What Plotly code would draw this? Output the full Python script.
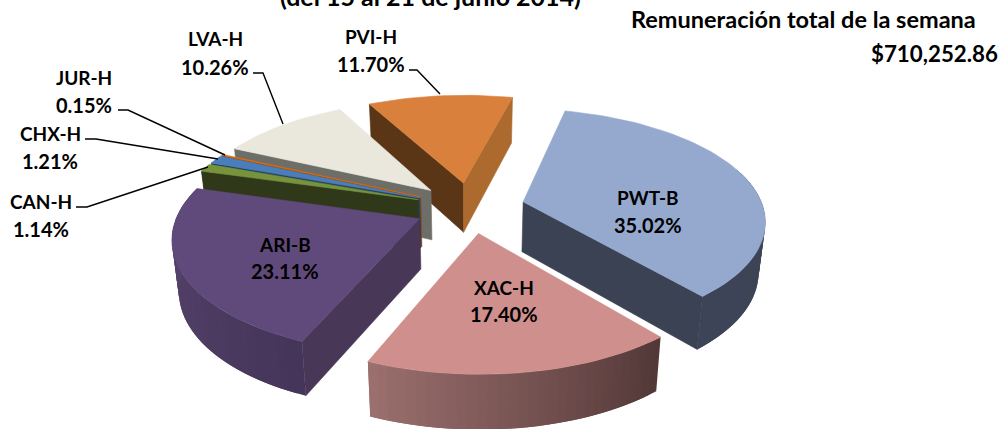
import math
import plotly.graph_objects as go

# Data, clockwise from the first slice
CATEGORIES = ["PWT-B", "XAC-H", "ARI-B", "CAN-H", "CHX-H", "JUR-H", "LVA-H", "PVI-H"]
SHARES = [35.02, 17.40, 23.11, 1.14, 1.21, 0.15, 10.26, 11.70]
SHARE_LABELS = ["35.02%", "17.40%", "23.11%", "1.14%", "1.21%", "0.15%", "10.26%", "11.70%"]
TITLE_LINE = "(del 15 al 21 de junio 2014)"
TOTAL_LINE_1 = "Remuneración total de la semana"
TOTAL_LINE_2 = "$710,252.86"

# Styles
TOP = ["#95A9CF", "#CF8F8C", "#604A7B", "#77933C", "#4A7EBB", "#E46C0A", "#EAE8DD", "#D8803C"]
WALL_START = ["#3B4253", "#5A3F3E", "#483757", "#30381A", "#27415F", "#8A4A10", "#6E6E68", "#5A3516"]
WALL_END = ["#3B4253", "#5A3F3E", "#483757", "#30381A", "#27415F", "#8A4A10", "#6E6E68", "#AC6A2F"]
RIM_A = ["#3B4253", "#533838", "#46355A", "#30381A", "#27415F", "#8A4A10", "#6E6E68", "#5A3516"]
RIM_B = ["#3D4457", "#9A6F6D", "#5A4771", "#30381A", "#27415F", "#8A4A10", "#6E6E68", "#5A3516"]
DRAW_ORDER = ["PVI-H", "LVA-H", "JUR-H", "CHX-H", "CAN-H", "PWT-B", "ARI-B", "XAC-H"]

# Camera model of the exploded 3-D pie
CX, CY = 470.0, 207.5
SCALE_X, SCALE_Y = 240.0, 111.0
PERSPECTIVE = 0.15
BACK_PERSPECTIVE = 0.02
EXPLODE = 0.229
HEIGHT = 50.0
BASE_SHRINK = 0.977
START_DEG = 14.0


def project(gx, gy):
    w = 1.0 - PERSPECTIVE * gy + BACK_PERSPECTIVE * min(gy, 0.0) ** 2
    return CX + SCALE_X * gx / w, CY + SCALE_Y * gy / w, w


def top_point(theta, mid, r=1.0):
    px = EXPLODE * math.sin(mid) + r * math.sin(theta)
    py = -EXPLODE * math.cos(mid) - r * math.cos(theta)
    return project(px, py)


def base(pt):
    return CX + (pt[0] - CX) * BASE_SHRINK, pt[1] + HEIGHT / math.sqrt(pt[2])


def mix(c1, c2, t):
    a = [int(c1[i:i + 2], 16) for i in (1, 3, 5)]
    b = [int(c2[i:i + 2], 16) for i in (1, 3, 5)]
    return "#%02X%02X%02X" % tuple(round(a[i] + (b[i] - a[i]) * t) for i in range(3))


fig = go.Figure()


def poly(xs, ys, color, lw=0.6):
    fig.add_trace(go.Scatter(
        x=list(xs) + [xs[0]], y=list(ys) + [ys[0]], mode="lines", fill="toself",
        fillcolor=color, line=dict(color=color, width=lw),
        hoverinfo="skip", showlegend=False))


total = sum(SHARES)
spans = {}
acc = math.radians(START_DEG)
for name, s in zip(CATEGORIES, SHARES):
    sweep = 2 * math.pi * s / total
    spans[name] = (acc, acc + sweep)
    acc += sweep

for name in DRAW_ORDER:
    i = CATEGORIES.index(name)
    a0, a1 = spans[name]
    mid = (a0 + a1) / 2
    apex = top_point(0, mid, 0.0)
    n = max(2, int(math.degrees(a1 - a0) / 2))
    angles = [a0 + (a1 - a0) * k / n for k in range(n + 1)]
    rim = [top_point(t, mid) for t in angles]

    # radial walls, only those facing the viewer
    if math.cos(a0 - math.pi / 2) < 0:
        p, q = rim[0], apex
        bp, bq = base(p), base(q)
        poly([p[0], q[0], bq[0], bp[0]], [p[1], q[1], bq[1], bp[1]], WALL_START[i])
    if math.cos(a1 + math.pi / 2) < 0:
        p, q = rim[-1], apex
        bp, bq = base(p), base(q)
        poly([p[0], q[0], bq[0], bp[0]], [p[1], q[1], bq[1], bp[1]], WALL_END[i])

    # curved outer wall, built in overlapping shaded strips so that no seams show
    for k in range(n):
        tm = (angles[k] + angles[k + 1]) / 2
        if -math.cos(tm) < -0.3:
            continue
        p, q = rim[k], rim[min(k + 2, n)]
        bp, bq = base(p), base(q)
        poly([p[0], q[0], bq[0], bp[0]], [p[1], q[1], bq[1], bp[1]],
             mix(RIM_A[i], RIM_B[i], k / max(1, n - 1)), lw=0)

    # top face
    poly([apex[0]] + [r[0] for r in rim], [apex[1]] + [r[1] for r in rim], TOP[i])

# Leader lines
LEADERS = {
    "PVI-H": [(409, 70), (417, 70), (440, 94)],
    "LVA-H": [(253, 73), (263, 73), (283, 124)],
    "JUR-H": [(118, 110), (128, 110), (225, 155)],
    "CHX-H": [(85, 139), (96, 139), (218, 159)],
    "CAN-H": [(76, 207), (87, 207), (208, 167)],
}
for pts in LEADERS.values():
    fig.add_trace(go.Scatter(x=[p[0] for p in pts], y=[p[1] for p in pts], mode="lines",
                             line=dict(color="#000000", width=1.4),
                             hoverinfo="skip", showlegend=False))

FONT = dict(family="Lato", size=19, color="#000000")
FONT_VAL = dict(family="Lato", size=20, color="#000000")
LABEL_POS = {
    "PWT-B": (648, 197, 648, 225),
    "XAC-H": (504, 287, 504, 314),
    "ARI-B": (285, 244, 285, 271),
    "CAN-H": (41, 201, 41, 229),
    "CHX-H": (50, 133, 50, 161),
    "JUR-H": (84, 77, 84, 105),
    "LVA-H": (215, 38, 215, 67),
    "PVI-H": (371, 36, 371, 64),
}
ann = []
for name, lab in zip(CATEGORIES, SHARE_LABELS):
    x1, y1, x2, y2 = LABEL_POS[name]
    for txt, x, y, f in ((name, x1, y1, FONT), (lab, x2, y2, FONT_VAL)):
        ann.append(dict(x=x, y=y, xref="x", yref="y", text=f"<b>{txt}</b>", showarrow=False,
                        xanchor="center", yanchor="middle", font=f))
ann.append(dict(x=430, y=1, xref="x", yref="paper", text=f"<b>{TITLE_LINE}</b>", showarrow=False,
                xanchor="center", yanchor="middle", yshift=4,
                font=dict(family="Lato", size=25, color="#000000")))
ann.append(dict(x=978, y=19, xref="x", yref="y", text=f"<b>{TOTAL_LINE_1}</b>", showarrow=False,
                xanchor="right", yanchor="middle",
                font=dict(family="Lato", size=23.5, color="#000000")))
ann.append(dict(x=1000, y=53, xref="x", yref="y", text=f"<b>{TOTAL_LINE_2}</b>", showarrow=False,
                xanchor="right", yanchor="middle",
                font=dict(family="Lato", size=22.3, color="#000000")))

fig.update_layout(
    width=1006, height=429, autosize=False,
    margin=dict(l=0, r=0, t=0, b=0),
    paper_bgcolor="#FFFFFF", plot_bgcolor="#FFFFFF",
    xaxis=dict(range=[0, 1006], visible=False, fixedrange=True),
    yaxis=dict(range=[429, 0], visible=False, fixedrange=True),
    annotations=ann, showlegend=False,
)
fig.write_html("out.html", config={"displayModeBar": False},
               post_script="document.body.style.margin='0';")
